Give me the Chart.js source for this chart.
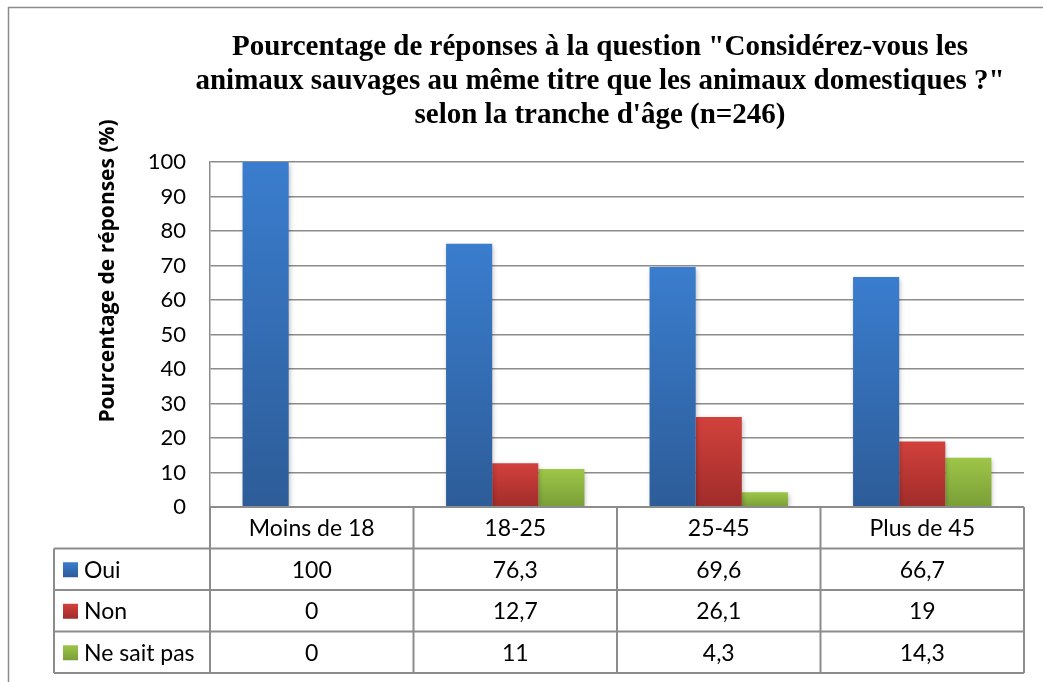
<!DOCTYPE html>
<html>
<head>
<meta charset="utf-8">
<script src="https://cdn.jsdelivr.net/npm/chart.js@4/dist/chart.umd.min.js"></script>
<style>
	body { margin: 0; background: #fff; }
	#wrap { width: 1043px; height: 682px; }
</style>
</head>
<body>
<div id="wrap"><canvas id="chart" width="1043" height="682"></canvas></div>
<script>
const categories = ["Moins de 18", "18-25", "25-45", "Plus de 45"];
const oui = [100, 76.3, 69.6, 66.7];
const non = [0, 12.7, 26.1, 19];
const nsp = [0, 11, 4.3, 14.3];
const yTicks = [0, 10, 20, 30, 40, 50, 60, 70, 80, 90, 100];

const titleLines = [
	"Pourcentage de réponses à la question \"Considérez-vous les",
	"animaux sauvages au même titre que les animaux domestiques ?\"",
	"selon la tranche d'âge (n=246)"
];
const yTitle = "Pourcentage de réponses (%)";

const lineColor = "#8c8c8c";
const sansFont = "Lato, 'Noto Sans', sans-serif";

function barGradient(top, bottom){
	return function(c){
		let chart = c.chart;
		if(!chart.chartArea || c.parsed === undefined) return top;
		let y = chart.scales.y;
		let y1 = y.getPixelForValue(c.parsed.y);
		let y0 = y.getPixelForValue(0);
		if(Math.abs(y0 - y1) < 1) return top;
		let g = chart.ctx.createLinearGradient(0, y1, 0, y0);
		g.addColorStop(0, top);
		g.addColorStop(1, bottom);
		return g;
	};
}

let series = [
	{ name: "Oui",         data: oui, top: "rgb(58,125,206)", bottom: "rgb(45,92,152)" },
	{ name: "Non",         data: non, top: "rgb(210,65,60)",  bottom: "rgb(160,44,42)" },
	{ name: "Ne sait pas", data: nsp, top: "rgb(158,198,72)", bottom: "rgb(121,158,55)" }
];

const decor = {
	id: "decor",
	beforeDraw(chart){
		let ctx = chart.ctx;
		ctx.save();
		ctx.strokeStyle = lineColor;
		ctx.lineWidth = 1.5;
		ctx.strokeRect(8.5, 7.5, 1100, 700);
		ctx.restore();
	},
	beforeDatasetsDraw(chart){
		let ctx = chart.ctx;
		ctx.save();
		ctx.shadowColor = "rgba(0,0,0,0.3)";
		ctx.shadowBlur = 5;
		ctx.shadowOffsetX = 1;
		ctx.shadowOffsetY = 2;
	},
	afterDatasetsDraw(chart){
		chart.ctx.restore();
	},
	afterDraw(chart){
		let ctx = chart.ctx;
		let area = chart.chartArea;
		let x = chart.scales.x;
		let n = categories.length;
		let colW = (area.right - area.left) / n;
		let rowH = 41.5;
		let top = area.bottom;
		let tableLeft = 54;
		let bottom = top + rowH * (series.length + 1);

		ctx.save();
		// title
		ctx.fillStyle = "#000";
		ctx.textAlign = "center";
		ctx.textBaseline = "middle";
		ctx.font = "bold 29px 'Liberation Serif', 'Times New Roman', serif";
		titleLines.forEach((t, i) => ctx.fillText(t, 600, 48 + i * 34));

		// y axis title
		ctx.save();
		ctx.translate(108, 271);
		ctx.rotate(-Math.PI / 2);
		ctx.font = "bold 21px 'Open Sans', sans-serif";
		ctx.fillText(yTitle, 0, 0);
		ctx.restore();

		// table lines
		ctx.strokeStyle = lineColor;
		ctx.lineWidth = 2;
		ctx.beginPath();
		for(let r = 0; r <= series.length + 1; r++){
			let yy = top + r * rowH;
			ctx.moveTo(r === 0 ? area.left : tableLeft, yy);
			ctx.lineTo(area.right, yy);
		}
		ctx.moveTo(tableLeft, top + rowH);
		ctx.lineTo(tableLeft, bottom);
		for(let c = 0; c <= n; c++){
			let xx = area.left + c * colW;
			ctx.moveTo(xx, top);
			ctx.lineTo(xx, bottom);
		}
		ctx.stroke();

		// table text
		ctx.font = "23px " + sansFont;
		ctx.fillStyle = "#000";
		ctx.textAlign = "center";
		categories.forEach((cat, i) => {
			let cx = x.getPixelForValue(i);
			ctx.fillText(cat, cx, top + rowH / 2 + 1);
			series.forEach((s, r) => {
				ctx.fillText(String(s.data[i]).replace(".", ","), cx, top + rowH * (r + 1.5) + 1);
			});
		});
		ctx.textAlign = "left";
		series.forEach((s, r) => {
			let cy = top + rowH * (r + 1.5);
			let g = ctx.createLinearGradient(0, cy - 7, 0, cy + 8);
			g.addColorStop(0, s.top);
			g.addColorStop(1, s.bottom);
			ctx.fillStyle = g;
			ctx.fillRect(63, cy - 7, 15, 15);
			ctx.fillStyle = "#000";
			ctx.fillText(s.name, 84, cy + 1);
		});
		ctx.restore();
	}
};

new Chart(document.getElementById("chart").getContext("2d"), {
	type: "bar",
	data: {
		labels: categories,
		datasets: series.map(s => ({
			label: s.name,
			data: s.data,
			backgroundColor: barGradient(s.top, s.bottom),
			borderWidth: 0,
			categoryPercentage: 0.68,
			barPercentage: 1.0
		}))
	},
	options: {
		responsive: false,
		animation: false,
		layout: { padding: { left: 0, right: 19, top: 162, bottom: 167 } },
		plugins: {
			legend: { display: false },
			title: { display: false },
			tooltip: { enabled: false }
		},
		scales: {
			x: {
				ticks: { display: false },
				grid: { display: false },
				border: { display: false }
			},
			y: {
				min: 0,
				max: 100,
				afterFit: s => { s.width = 210; },
				afterBuildTicks: s => { s.ticks = yTicks.map(v => ({ value: v })); },
				ticks: {
					padding: 24,
					color: "#000",
					font: { family: sansFont, size: 22 }
				},
				grid: { color: lineColor, lineWidth: 1.5, drawTicks: false },
				border: { display: true, color: lineColor, width: 1.5 }
			}
		}
	},
	plugins: [decor]
});
</script>
</body>
</html>
